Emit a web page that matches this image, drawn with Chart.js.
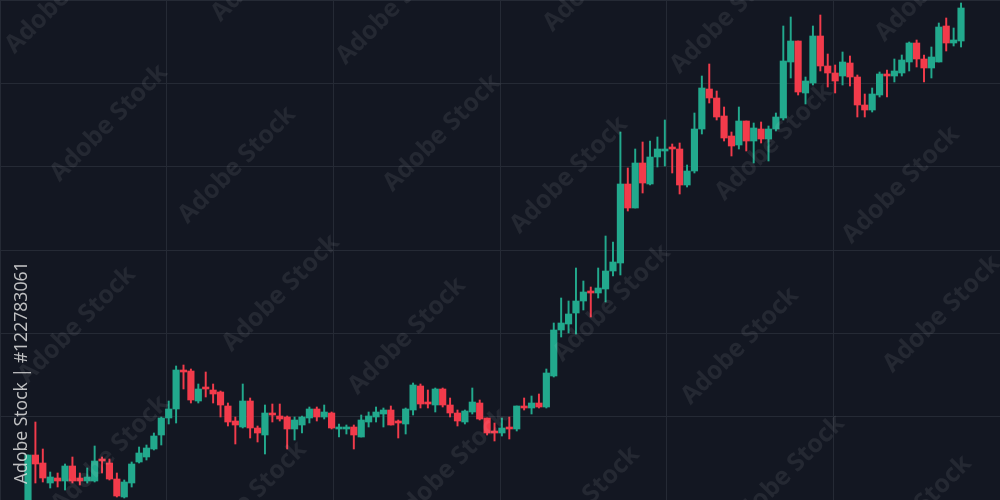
<!DOCTYPE html>
<html>
<head>
<meta charset="utf-8">
<script src="https://cdn.jsdelivr.net/npm/chart.js@4.4.1/dist/chart.umd.min.js"></script>
<style>
    html, body { margin: 0; padding: 0; background: #131722; }
    #wrap { width: 1000px; height: 500px; position: relative; }
</style>
</head>
<body>
<div id="wrap"><canvas id="candleChart"></canvas></div>
<script>
// أسعار الشموع (الافتتاح، الإغلاق، الأعلى، الأدنى)
const openVals = [-5, 45, 37, 17, 22, 19, 34, 22, 19, 19, 41, 37, 21, 3, 17, 38, 43, 51, 65, 82,
    91, 130, 129, 99, 113, 110, 108, 94, 79, 73, 99, 72, 65, 87, 84, 83, 71, 75, 82, 91,
    83, 87, 71, 71, 73, 63, 78, 83, 86, 90, 78, 76, 90, 114, 97, 95, 111, 95, 87, 78,
    88, 97, 82, 69, 67, 72, 71, 94, 92, 97, 93, 124, 170, 176, 187, 199, 209, 207, 211, 229,
    237, 316, 292, 337, 316, 343, 349, 353, 351, 315, 329, 371, 411, 402, 384, 364, 355, 379, 359, 371,
    361, 371, 382, 438, 459, 407, 417, 464, 434, 427, 424, 437, 423, 395, 390, 405, 426, 424, 427, 438,
    457, 441, 432, 438, 474, 457, 459];
const closeVals = [45, 36, 22, 23, 19, 34, 19, 19, 23, 39, 39, 21, 4, 18, 36, 47, 52, 64, 82, 91,
    130, 128, 100, 111, 111, 106, 95, 78, 75, 99, 72, 67, 87, 85, 81, 71, 80, 83, 91, 83,
    88, 72, 73, 73, 65, 80, 84, 88, 90, 75, 77, 91, 115, 96, 96, 111, 95, 87, 79, 89,
    98, 81, 67, 67, 72, 71, 94, 92, 97, 93, 127, 170, 177, 186, 199, 208, 207, 212, 229, 238,
    316, 292, 337, 317, 343, 351, 351, 351, 315, 329, 371, 412, 402, 383, 362, 354, 379, 359, 372, 361,
    371, 383, 439, 459, 408, 419, 464, 434, 427, 419, 438, 423, 395, 390, 406, 426, 424, 429, 440, 457,
    441, 432, 443, 473, 457, 460, 492];
const highVals = [45, 78, 51, 28, 27, 36, 43, 27, 32, 54, 43, 41, 27, 20, 38, 53, 55, 67, 83, 99,
    134, 135, 131, 116, 128, 116, 109, 97, 83, 116, 102, 74, 95, 96, 96, 84, 83, 84, 93, 93,
    95, 88, 76, 75, 75, 85, 88, 93, 92, 94, 80, 92, 117, 116, 110, 112, 112, 102, 90, 90,
    112, 100, 82, 77, 82, 83, 94, 102, 104, 106, 131, 177, 202, 199, 232, 219, 213, 232, 264, 258,
    368, 332, 351, 358, 359, 363, 380, 356, 357, 335, 387, 424, 436, 409, 393, 368, 393, 379, 377, 378,
    374, 387, 474, 483, 459, 423, 474, 485, 446, 435, 448, 444, 425, 406, 412, 428, 430, 441, 445, 458,
    460, 445, 453, 477, 482, 472, 497];
const lowVals = [-5, 17, 18, 12, 13, 10, 17, 15, 17, 18, 27, 20, 3, 2, 13, 37, 40, 50, 55, 76,
    77, 111, 97, 97, 103, 97, 83, 74, 56, 72, 62, 58, 46, 78, 79, 51, 60, 67, 77, 79,
    81, 71, 63, 66, 51, 63, 73, 78, 73, 75, 62, 66, 85, 92, 92, 88, 93, 83, 74, 76,
    86, 80, 65, 59, 64, 61, 69, 90, 86, 92, 92, 123, 163, 167, 166, 190, 183, 202, 198, 224,
    225, 289, 292, 307, 315, 333, 334, 327, 306, 313, 327, 366, 397, 380, 359, 344, 351, 349, 337, 357,
    339, 369, 380, 422, 405, 396, 415, 429, 413, 407, 415, 414, 383, 383, 388, 403, 403, 418, 424, 429,
    433, 418, 422, 438, 449, 454, 453];

// خطوط الشبكة: 6 أعمدة و 6 صفوف
const gridDivs = 6;
const yMin = 0;
const yMax = 500;

const upColor = '#22a98d';
const downColor = '#f23b4b';

// مواقع العلامة المائية
const markPos = [
    [64, -5], [270, -37], [395, 6], [602, -27], [729, 15], [934, -17],
    [109, 123], [237, 165], [442, 133], [569, 175], [774, 142], [901, 185],
    [77, 325], [281, 293], [407, 336], [612, 303], [740, 346], [942, 314],
    [110, 454], [248, 500], [450, 467], [581, 505], [786, 474], [913, 514]
];

const watermarkPlugin = {
    id: 'watermark',
    afterDraw(chart) {
        const ctx = chart.ctx;
        ctx.save();
        ctx.font = 'bold 25px "Open Sans", sans-serif';
        ctx.fillStyle = 'rgba(255, 255, 255, 0.075)';
        ctx.textAlign = 'center';
        ctx.textBaseline = 'middle';
        markPos.forEach(p => {
            ctx.save();
            ctx.translate(p[0], p[1]);
            ctx.rotate(-Math.PI / 4);
            ctx.fillText('Adobe Stock', 0, 0);
            ctx.restore();
        });
        // النص العمودي على اليسار
        ctx.translate(22, 484);
        ctx.rotate(-Math.PI / 2);
        ctx.font = '17.6px "Open Sans", sans-serif';
        ctx.fillStyle = 'rgba(225, 225, 225, 0.85)';
        ctx.textAlign = 'left';
        ctx.fillText('Adobe Stock | #122783061', 0, 0);
        ctx.restore();
    }
};

document.addEventListener('DOMContentLoaded', function() {
    const idx = openVals.map((v, i) => i);
    const colors = idx.map(i => closeVals[i] >= openVals[i] ? upColor : downColor);

    const spacing = 7.405;
    const xMin = -28 / spacing;
    const xMax = xMin + 1000 / spacing;

    const ctx = document.getElementById('candleChart').getContext('2d');
    window.candleChart = new Chart(ctx, {
        type: 'bar',
        data: {
            datasets: [
                {
                    label: 'wicks',
                    data: idx.map(i => ({ x: i, y: [lowVals[i], highVals[i]] })),
                    backgroundColor: colors,
                    barThickness: 1.3,
                    grouped: false,
                    borderWidth: 0
                },
                {
                    label: 'bodies',
                    data: idx.map(i => ({ x: i, y: [openVals[i], closeVals[i]] })),
                    backgroundColor: colors,
                    barThickness: 6.5,
                    minBarLength: 2,
                    grouped: false,
                    borderWidth: 0
                }
            ]
        },
        options: {
            responsive: true,
            maintainAspectRatio: false,
            animation: false,
            layout: { padding: 0 },
            plugins: {
                legend: { display: false },
                tooltip: { enabled: false }
            },
            scales: {
                x: {
                    type: 'linear',
                    min: xMin,
                    max: xMax,
                    offset: false,
                    // خطوط عمودية متساوية على عرض الرسم
                    afterBuildTicks: function(scale) {
                        const t = [];
                        for (let k = 0; k <= gridDivs; k++) {
                            t.push({ value: xMin + k * (xMax - xMin) / gridDivs });
                        }
                        scale.ticks = t;
                    },
                    ticks: { display: false },
                    grid: { color: '#252a35', drawTicks: false, offset: false },
                    border: { display: false }
                },
                y: {
                    min: yMin,
                    max: yMax,
                    ticks: { display: false, stepSize: (yMax - yMin) / gridDivs },
                    grid: { color: '#252a35', drawTicks: false },
                    border: { display: false }
                }
            }
        },
        plugins: [watermarkPlugin]
    });
});
</script>
</body>
</html>
